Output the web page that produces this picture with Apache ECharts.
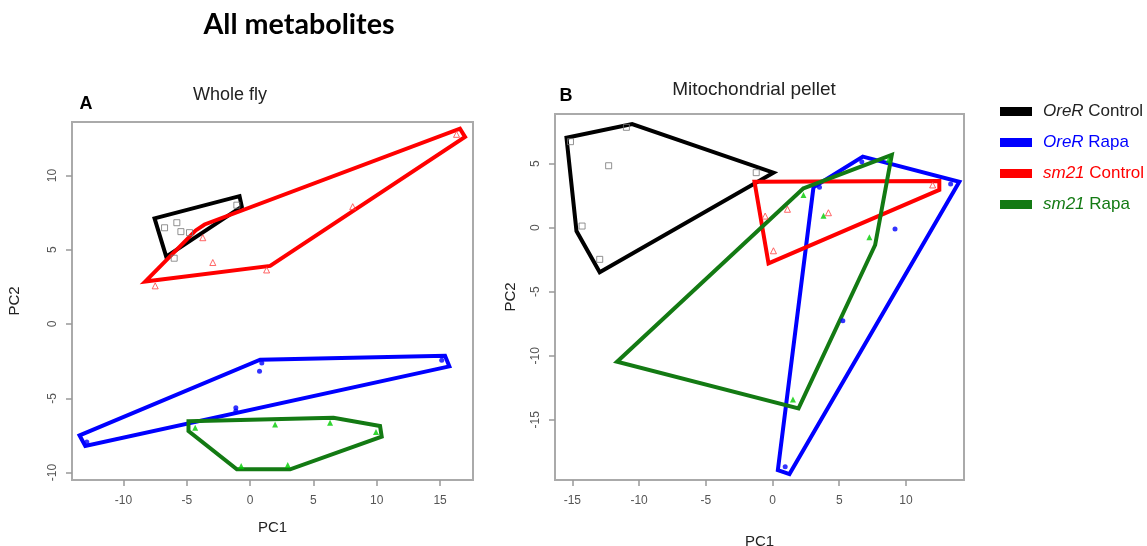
<!DOCTYPE html>
<html>
<head>
<meta charset="utf-8">
<script src="https://cdn.jsdelivr.net/npm/echarts@6/dist/echarts.min.js"></script>
<style>html,body{margin:0;background:#fff}#main{width:1147px;height:546px}</style>
</head>
<body>
<div id="main"></div>
<script>
// groups and colours
var groups = ['OreR Control', 'OreR Rapa', 'sm21 Control', 'sm21 Rapa'];
var hullColors = ['#000000', '#0000ff', '#ff0000', '#137a13'];
var pointColors = ['#777777', '#0000ff', '#ff4040', '#00cc00'];
var pointSymbols = ['rect', 'circle', 'triangle', 'triangle'];
var pointHollow = [true, false, true, false];

// Whole fly (PC1, PC2)
var aCtrlPts = [[-6.76, 6.48], [-5.79, 6.82], [-5.47, 6.22], [-4.79, 6.15], [-6.0, 4.43], [-1.05, 8.0]];
var aCtrlHull = [[-7.55, 7.11], [-0.84, 8.61], [-0.66, 7.9], [-6.63, 4.54]];
var aRapaPts = [[0.74, -3.18], [-1.13, -5.64], [-1.13, -5.85], [15.13, -2.44], [-12.9, -7.95], [0.92, -2.62]];
var aRapaHull = [[-13.47, -7.5], [0.79, -2.4], [15.39, -2.13], [15.73, -2.85], [-13.02, -8.21]];
var aSmCtrlPts = [[-7.5, 2.57], [-2.95, 4.14], [-3.74, 5.81], [1.3, 3.64], [8.1, 7.9], [16.3, 12.77]];
var aSmCtrlHull = [[-8.29, 2.86], [-4.3, 6.3], [-3.6, 6.7], [16.57, 13.15], [16.97, 12.6], [1.58, 3.91]];
var aSmRapaPts = [[-4.34, -6.98], [1.97, -6.76], [6.31, -6.64], [9.94, -7.27], [-0.71, -9.56], [2.97, -9.49]];
var aSmRapaHull = [[-4.87, -6.54], [6.58, -6.31], [10.26, -6.87], [10.39, -7.58], [3.16, -9.78], [-1.05, -9.78], [-4.87, -7.21]];

// Mitochondrial pellet (PC1, PC2)
var bCtrlPts = [[-10.95, 7.84], [-12.28, 4.84], [-14.27, 0.13], [-12.95, -2.47], [-1.22, 4.3], [-15.14, 6.72]];
var bCtrlHull = [[-15.44, 7.03], [-10.52, 8.1], [0.07, 4.3], [-12.95, -3.48], [-14.69, -0.26]];
var bRapaPts = [[3.52, 3.16], [6.69, 5.16], [9.18, -0.1], [13.35, 3.41], [5.27, -7.27], [0.95, -18.67]];
var bRapaHull = [[6.77, 5.55], [14.0, 3.59], [1.27, -19.24], [0.4, -18.93], [3.07, 3.16]];
var bSmCtrlPts = [[-0.55, 0.91], [1.12, 1.44], [4.19, 1.17], [0.07, -1.8], [12.0, 3.34]];
var bSmCtrlHull = [[-1.35, 3.59], [12.5, 3.65], [12.5, 2.95], [-0.3, -2.78]];
var bSmRapaPts = [[2.32, 2.55], [3.82, 0.94], [7.26, -0.75], [1.53, -13.41], [8.7, 5.3]];
var bSmRapaHull = [[2.32, 3.08], [8.94, 5.68], [7.69, -1.35], [1.95, -14.11], [-11.65, -10.47]];

// axis ranges and tick labels
var aXRange = [-14.07, 17.6], aYRange = [-10.5, 13.6];
var bXRange = [-16.3, 14.35], bYRange = [-19.7, 8.88];
var aXTicks = [-10, -5, 0, 5, 10, 15], aYTicks = [-10, -5, 0, 5, 10];
var bXTicks = [-15, -10, -5, 0, 5, 10], bYTicks = [-15, -10, -5, 0, 5];

var panelPts = [[aCtrlPts, aRapaPts, aSmCtrlPts, aSmRapaPts], [bCtrlPts, bRapaPts, bSmCtrlPts, bSmRapaPts]];
var panelHulls = [[aCtrlHull, aRapaHull, aSmCtrlHull, aSmRapaHull], [bCtrlHull, bRapaHull, bSmCtrlHull, bSmRapaHull]];

var FONT = 'Liberation Sans, Arial, sans-serif';

function makeAxis(idx, range, ticks, isX, nameGap) {
    return {
        type: 'value', gridIndex: idx, min: range[0], max: range[1],
        name: isX ? 'PC1' : 'PC2', nameLocation: 'middle', nameGap: nameGap,
        nameTextStyle: {fontFamily: FONT, fontSize: 15, color: '#222'},
        splitLine: {show: false},
        axisLine: {show: false, onZero: false},
        axisTick: {show: true, length: 6, customValues: ticks, lineStyle: {color: '#999', width: 1.5}},
        axisLabel: {customValues: ticks, rotate: isX ? 0 : 90, margin: isX ? 15 : 13,
            fontFamily: FONT, fontSize: 12, color: '#555'}
    };
}

// hull outline drawn as a polygon through the axis scales
function hullRenderer(hull, color) {
    return function (params, api) {
        if (params.dataIndex !== 0) {
            return null;
        }
        var pts = hull.map(function (v) { return api.coord(v); });
        return {
            type: 'polygon',
            shape: {points: pts},
            style: {fill: 'none', stroke: color, lineWidth: 4, lineJoin: 'miter'}
        };
    };
}

var series = [];
var p, g;
for (p = 0; p < 2; p++) {
    for (g = 0; g < groups.length; g++) {
        series.push({
            name: groups[g], type: 'custom', xAxisIndex: p, yAxisIndex: p,
            data: panelHulls[p][g], z: 3, silent: true,
            itemStyle: {color: hullColors[g]},
            renderItem: hullRenderer(panelHulls[p][g], hullColors[g])
        });
    }
}
for (p = 0; p < 2; p++) {
    for (g = 0; g < groups.length; g++) {
        series.push({
            name: groups[g], type: 'scatter', xAxisIndex: p, yAxisIndex: p,
            data: panelPts[p][g], symbol: pointSymbols[g], z: 4,
            symbolSize: pointSymbols[g] === 'circle' ? 5 : 6,
            itemStyle: pointHollow[g]
                ? {color: 'transparent', borderColor: pointColors[g], borderWidth: 1}
                : {color: pointColors[g]}
        });
    }
}

var chart = echarts.init(document.getElementById('main'));
chart.setOption({
    backgroundColor: '#fff',
    animation: false,
    title: [
        {text: 'All metabolites', left: 294, top: 5, textAlign: 'center',
            textStyle: {fontFamily: 'Lato, sans-serif', fontWeight: 'bold', fontSize: 28.7, color: '#000'}},
        {text: 'A', left: 81, top: 90, textAlign: 'center',
            textStyle: {fontFamily: FONT, fontWeight: 'bold', fontSize: 18, color: '#000'}},
        {text: 'Whole fly', left: 225, top: 81, textAlign: 'center',
            textStyle: {fontFamily: FONT, fontWeight: 'normal', fontSize: 18, color: '#222'}},
        {text: 'B', left: 561, top: 82, textAlign: 'center',
            textStyle: {fontFamily: FONT, fontWeight: 'bold', fontSize: 18, color: '#000'}},
        {text: 'Mitochondrial pellet', left: 749, top: 75, textAlign: 'center',
            textStyle: {fontFamily: FONT, fontWeight: 'normal', fontSize: 19, color: '#222'}}
    ],
    legend: {
        orient: 'vertical', left: 995, top: 98, icon: 'rect',
        itemWidth: 32, itemHeight: 9, itemGap: 14,
        itemStyle: {borderWidth: 0},
        data: groups.map(function (n, i) {
            return {name: n, itemStyle: {color: hullColors[i]}, textStyle: {color: i === 0 ? '#222' : hullColors[i]}};
        }),
        formatter: function (name) {
            var k = name.indexOf(' ');
            return '{i|' + name.slice(0, k) + '}' + name.slice(k);
        },
        textStyle: {fontFamily: FONT, fontSize: 17, padding: [0, 0, 0, 6],
            rich: {i: {fontFamily: FONT, fontSize: 17, fontStyle: 'italic'}}}
    },
    grid: [
        {left: 72, top: 122, width: 401, height: 358, show: true, borderColor: '#aaa', borderWidth: 2,
            outerBoundsMode: 'none'},
        {left: 555, top: 114, width: 409, height: 366, show: true, borderColor: '#aaa', borderWidth: 2,
            outerBoundsMode: 'none'}
    ],
    xAxis: [makeAxis(0, aXRange, aXTicks, true, 40), makeAxis(1, bXRange, bXTicks, true, 54)],
    yAxis: [makeAxis(0, aYRange, aYTicks, false, 50), makeAxis(1, bYRange, bYTicks, false, 37)],
    series: series
});
</script>
</body>
</html>
